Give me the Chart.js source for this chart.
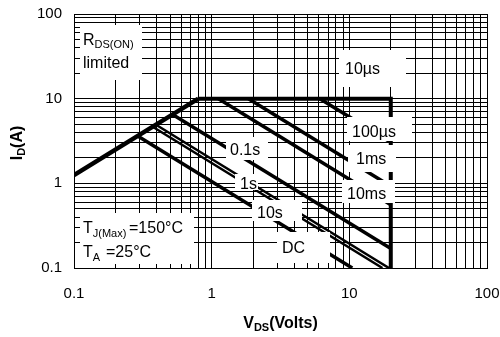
<!DOCTYPE html>
<html>
<head>
<meta charset="UTF-8">
<title>Safe Operating Area</title>
<script src="https://cdn.jsdelivr.net/npm/chart.js"></script>
<style>
  html, body { margin: 0; padding: 0; background: #fff; }
  #wrap { width: 500px; height: 337px; }
</style>
</head>
<body>
<div id="wrap"><canvas id="soaChart"></canvas></div>
<script>
// tick labels and grid steps (log axes, one line per 1..9 of each decade)
const xTickLabels = ['0.1', '1', '10', '100'];
const yTickLabels = ['0.1', '1', '10', '100'];
const decades = [0.1, 1, 10];
const gridSteps = [1, 2, 3, 4, 5, 6, 7, 8, 9];

// curves: V(DS) in volts, I(D) in amps
const rdsV = [0.1, 0.8];          const rdsI = [1.25, 10];
const us10V = [0.8, 20, 20];      const us10I = [10, 10, 0.1];
const us100V = [6.1, 20];         const us100I = [10, 3.05];
const ms1V = [1.85, 20];          const ms1I = [10, 0.925];
const ms10V = [1.12, 20];         const ms10I = [10, 0.56];
const s01V = [0.52, 20];          const s01I = [6.5, 0.17];
const s1V = [0.394, 19.4];        const s1I = [4.92, 0.1];
const s10V = [0.373, 17.4];       const s10I = [4.66, 0.1];
const dcV = [0.29, 10.5];         const dcI = [3.62, 0.1];

const FONT = '"Liberation Sans", Arial, sans-serif';

const gridValues = [];
decades.forEach(d => gridSteps.forEach(m => gridValues.push(+(d * m).toPrecision(3))));
gridValues.push(100);

function pts(vs, is) {
    return vs.map((v, i) => ({ x: v, y: is[i] }));
}

function curve(vs, is, w) {
    return {
        data: pts(vs, is),
        showLine: true,
        borderColor: '#000',
        borderWidth: w,
        pointRadius: 0,
        fill: false,
        borderCapStyle: 'butt',
        borderJoinStyle: 'miter'
    };
}

function labelFor(list) {
    return function (value) {
        const hit = list.find(l => Math.abs(Number(l) - value) < 1e-6 * Number(l));
        return hit || '';
    };
}

// white boxes behind the notes [left, top, right, bottom] in pixels
const boxes = [
    [80, 25, 142, 80],
    [339, 50, 406, 87],
    [347, 117, 412, 141],
    [348, 145, 396, 172],
    [342, 180, 395, 203],
    [226, 137, 268, 160],
    [235, 174, 258, 190],
    [252, 200, 302, 221],
    [277, 232, 330, 263],
    [80, 213, 194, 264]
];

// notes: each segment is [text, size, x position or null, baseline shift]
const notes = [
    { x: 83, y: 45, segs: [['R', 16], ['DS(ON)', 11, null, 3]] },
    { x: 83, y: 68, segs: [['limited', 16]] },
    { x: 345, y: 74, segs: [['10\u00b5s', 16]] },
    { x: 352, y: 137, segs: [['100\u00b5s', 16]] },
    { x: 356, y: 164, segs: [['1ms', 16]] },
    { x: 347, y: 199, segs: [['10ms', 16]] },
    { x: 230, y: 155, segs: [['0.1s', 16]] },
    { x: 240, y: 189, segs: [['1s', 16]] },
    { x: 257, y: 218, segs: [['10s', 16]] },
    { x: 282, y: 253, segs: [['DC', 16]] },
    { x: 83, y: 233, segs: [['T', 16], ['J(Max)', 11, null, 4], ['=150\u00b0C', 16, 129]] },
    { x: 83, y: 257, segs: [['T', 16], ['A', 11, null, 4], ['=25\u00b0C', 16, 106]] }
];

function drawSegs(ctx, x, y, segs, bold) {
    let cx = x;
    segs.forEach(s => {
        ctx.font = (bold ? 'bold ' : '') + s[1] + 'px ' + FONT;
        if (s[2] != null) cx = s[2];
        ctx.fillText(s[0], cx, y + (s[3] || 0));
        cx += ctx.measureText(s[0]).width;
    });
}

function segsWidth(ctx, segs, bold) {
    let w = 0;
    segs.forEach(s => {
        ctx.font = (bold ? 'bold ' : '') + s[1] + 'px ' + FONT;
        w += ctx.measureText(s[0]).width;
    });
    return w;
}

const notesPlugin = {
    id: 'notes',
    afterDatasetsDraw(chart) {
        const ctx = chart.ctx;
        ctx.save();
        ctx.fillStyle = '#fff';
        boxes.forEach(b => ctx.fillRect(b[0], b[1], b[2] - b[0], b[3] - b[1]));
        ctx.fillStyle = '#000';
        ctx.textBaseline = 'alphabetic';
        ctx.textAlign = 'left';
        notes.forEach(n => drawSegs(ctx, n.x, n.y, n.segs, false));

        // axis titles with subscripts
        const area = chart.chartArea;
        const xt = [['V', 16], ['DS', 11, null, 3], ['(Volts)', 16]];
        const xw = segsWidth(ctx, xt, true);
        drawSegs(ctx, (area.left + area.right) / 2 - xw / 2, 328, xt, true);

        const yt = [['I', 16], ['D', 11, null, 3], ['(A)', 16]];
        const yw = segsWidth(ctx, yt, true);
        ctx.translate(22, (area.top + area.bottom) / 2 + 2);
        ctx.rotate(-Math.PI / 2);
        drawSegs(ctx, -yw / 2, 0, yt, true);
        ctx.restore();
    }
};

const gridOpts = { color: '#000', lineWidth: 1, drawTicks: false };

new Chart(document.getElementById('soaChart'), {
    type: 'scatter',
    data: {
        datasets: [
            curve(rdsV, rdsI, 4.5),
            curve(us10V, us10I, 4),
            curve(us100V, us100I, 3.5),
            curve(ms1V, ms1I, 3.5),
            curve(ms10V, ms10I, 3.5),
            curve(s01V, s01I, 3.5),
            curve(s1V, s1I, 2.5),
            curve(s10V, s10I, 2.5),
            curve(dcV, dcI, 3.5)
        ]
    },
    options: {
        responsive: true,
        maintainAspectRatio: false,
        animation: false,
        layout: { padding: 0 },
        plugins: { legend: { display: false }, tooltip: { enabled: false } },
        scales: {
            x: {
                type: 'logarithmic',
                min: 0.1,
                max: 100,
                afterBuildTicks: s => { s.ticks = gridValues.map(v => ({ value: v })); },
                afterFit: s => { s.height = 69; s.paddingLeft = 0; s.paddingRight = 13; },
                ticks: {
                    autoSkip: false,
                    maxRotation: 0,
                    padding: 17,
                    color: '#000',
                    font: { family: FONT, size: 15 },
                    callback: labelFor(xTickLabels)
                },
                grid: gridOpts,
                border: { color: '#000', width: 1 }
            },
            y: {
                type: 'logarithmic',
                min: 0.1,
                max: 100,
                afterBuildTicks: s => { s.ticks = gridValues.map(v => ({ value: v })); },
                afterFit: s => { s.width = 74; s.paddingTop = 14; s.paddingBottom = 0; },
                ticks: {
                    autoSkip: false,
                    padding: 12,
                    color: '#000',
                    font: { family: FONT, size: 15 },
                    callback: labelFor(yTickLabels)
                },
                grid: gridOpts,
                border: { color: '#000', width: 1 }
            }
        }
    },
    plugins: [notesPlugin]
});
</script>
</body>
</html>
